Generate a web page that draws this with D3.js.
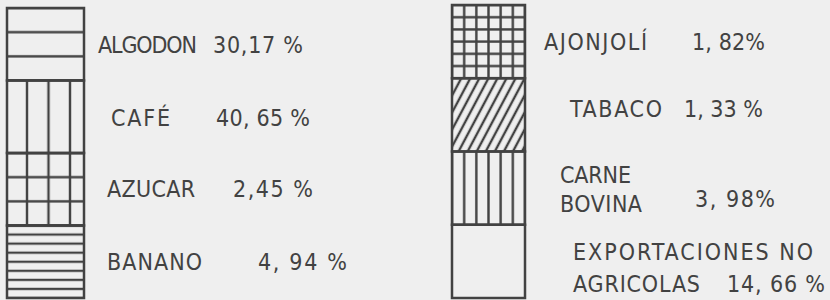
<!DOCTYPE html>
<html>
<head>
<meta charset="utf-8">
<script src="https://cdn.jsdelivr.net/npm/d3@7"></script>
<style>
  body { margin: 0; background: #efefef; }
  svg { display: block; }
</style>
</head>
<body>
<div id="chart"></div>
<script>
// data
const leftCats = ["ALGODON", "CAFÉ", "AZUCAR", "BANANO"];
const leftValues = [30.17, 40.65, 2.45, 4.94];
const leftValueLabels = ["30,17 %", "40, 65 %", "2,45 %", "4, 94 %"];

const rightCats = [["AJONJOLÍ"], ["TABACO"], ["CARNE", "BOVINA"], ["EXPORTACIONES NO", "AGRICOLAS"]];
const rightValues = [1.82, 1.33, 3.98, 14.66];
const rightValueLabels = ["1, 82%", "1, 33 %", "3, 98%", "14, 66 %"];

// layout
const width = 830, height = 300;
const ink = "#424242";

const svg = d3.select("#chart")
    .append("svg")
    .attr("width", width)
    .attr("height", height);

// both bars are drawn with equal-height segments, as in the original figure
const yLeft = d3.scaleBand().domain(d3.range(leftCats.length)).range([8, 298]);
const yRight = d3.scaleBand().domain(d3.range(rightCats.length)).range([5, 298]);
const xLeft = d3.scaleLinear().domain([0, 1]).range([7, 84]);
const xRight = d3.scaleLinear().domain([0, 1]).range([452, 525]);

// hatch patterns
const defs = svg.append("defs");

function linePattern(id, w, h, x0, y0, dirs, transform) {
    const p = defs.append("pattern")
        .attr("id", id)
        .attr("patternUnits", "userSpaceOnUse")
        .attr("width", w)
        .attr("height", h)
        .attr("x", x0)
        .attr("y", y0);
    if (transform) p.attr("patternTransform", transform);
    if (dirs.includes("h")) {
        p.append("line").attr("x1", 0).attr("x2", w).attr("y1", h / 2).attr("y2", h / 2)
            .attr("stroke", ink).attr("stroke-width", 2.4);
    }
    if (dirs.includes("v")) {
        p.append("line").attr("y1", 0).attr("y2", h).attr("x1", w / 2).attr("x2", w / 2)
            .attr("stroke", ink).attr("stroke-width", 2.4);
    }
}

const bl = yLeft.bandwidth(), br = yRight.bandwidth();
linePattern("rows3", 200, bl / 3, 0, yLeft(0) - bl / 6, "h");
linePattern("cols4", 21.5, 300, 27 - 10.75, 0, "v");
linePattern("grid4", 21.5, bl / 3, 27 - 10.75, yLeft(2) - bl / 6, "hv");
linePattern("stripes", 200, bl / 8, 0, yLeft(3) - bl / 16, "h");
linePattern("grid6", 73 / 6, br / 6, 452 - 73 / 12, yRight(0) - br / 12, "hv");
linePattern("diag", 8, 40, 0, 0, "v", "rotate(28)");
linePattern("cols6", 73 / 6, 300, 452 - 73 / 12, 0, "v");

const leftFill = ["url(#rows3)", "url(#cols4)", "url(#grid4)", "url(#stripes)"];
const rightFill = ["url(#grid6)", "url(#diag)", "url(#cols6)", "none"];

function drawBar(cats, y, x, fills) {
    const g = svg.append("g");
    g.selectAll("rect.seg")
        .data(cats)
        .join("rect")
        .attr("class", "seg")
        .attr("x", x(0))
        .attr("y", (d, i) => y(i))
        .attr("width", x(1) - x(0))
        .attr("height", y.bandwidth())
        .attr("fill", (d, i) => fills[i])
        .attr("stroke", ink)
        .attr("stroke-width", 2.5);
}
drawBar(leftCats, yLeft, xLeft, leftFill);
drawBar(rightCats, yRight, xRight, rightFill);

// labels: x, width of each line, baseline offset from band centre
const leftLabelPos = [
    { x: 98, w: 99, dy: 8.4, vx: 213, vw: 90, vdy: 8.4 },
    { x: 111, w: 59, dy: 9.2, vx: 216, vw: 94, vdy: 9.2 },
    { x: 107, w: 88, dy: 8.0, vx: 233, vw: 80, vdy: 8.0 },
    { x: 107, w: 95, dy: 8.2, vx: 258, vw: 89, vdy: 8.2 }
];
const rightLabelPos = [
    { x: 544, w: [103], dy: [8.4], vx: 692, vw: 73, vdy: 8.4 },
    { x: 570, w: [92], dy: [1.8], vx: 684, vw: 79, vdy: 1.8 },
    { x: 560, w: [71, 82], dy: [-4.8, 23.6], vx: 695, vw: 80, vdy: 18.6 },
    { x: 573, w: [240, 127], dy: [-1.4, 30.3], vx: 727, vw: 98, vdy: 30.3 }
];

const textStyle = sel => sel
    .attr("fill", ink)
    .attr("font-family", "'Liberation Sans Narrow', 'DejaVu Sans Condensed', 'Liberation Sans', sans-serif")
    .attr("font-size", 23)
    .attr("lengthAdjust", "spacing");

const centre = (y, i) => y(i) + y.bandwidth() / 2;

leftCats.forEach((c, i) => {
    const p = leftLabelPos[i];
    svg.append("text").text(c)
        .attr("x", p.x).attr("y", centre(yLeft, i) + p.dy)
        .attr("textLength", p.w).call(textStyle);
    svg.append("text").text(leftValueLabels[i])
        .attr("x", p.vx).attr("y", centre(yLeft, i) + p.vdy)
        .attr("textLength", p.vw).call(textStyle);
});

rightCats.forEach((lines, i) => {
    const p = rightLabelPos[i];
    lines.forEach((ln, j) => {
        svg.append("text").text(ln)
            .attr("x", p.x).attr("y", centre(yRight, i) + p.dy[j])
            .attr("textLength", p.w[j]).call(textStyle);
    });
    svg.append("text").text(rightValueLabels[i])
        .attr("x", p.vx).attr("y", centre(yRight, i) + p.vdy)
        .attr("textLength", p.vw).call(textStyle);
});
</script>
</body>
</html>
